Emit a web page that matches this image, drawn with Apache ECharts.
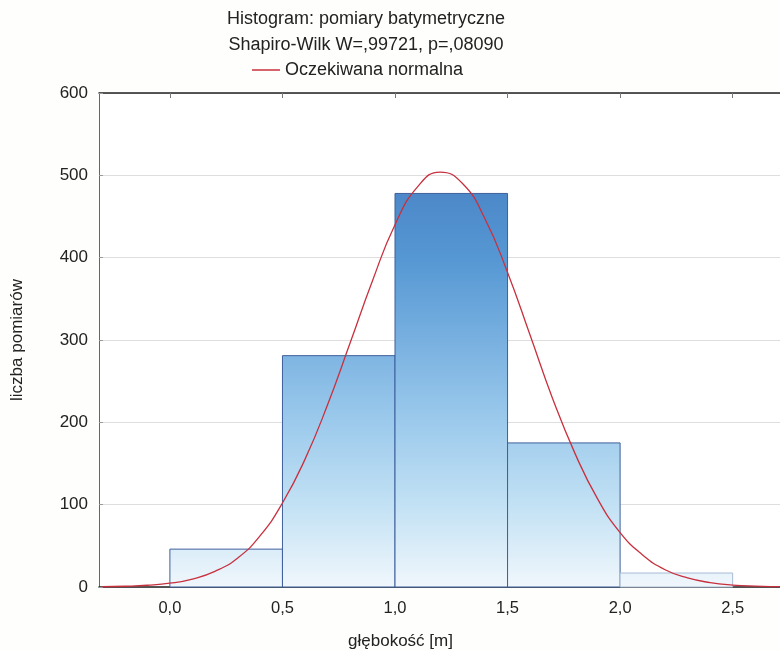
<!DOCTYPE html>
<html>
<head>
<meta charset="utf-8">
<script src="https://cdn.jsdelivr.net/npm/echarts@6/dist/echarts.min.js"></script>
<style>
  html, body { margin: 0; padding: 0; background: #fefefc; }
  #chart { width: 780px; height: 650px; }
</style>
</head>
<body>
<div id="chart"></div>
<script>
// przedziały histogramu [od, do] i liczebności
var binStart = [0.0, 0.5, 1.0, 1.5, 2.0];
var binEnd = [0.5, 1.0, 1.5, 2.0, 2.5];
var counts = [46, 281, 478, 175, 17];

// krzywa oczekiwana normalna
var curveX = [-0.3, -0.2, -0.1, 0.0, 0.1, 0.2, 0.3, 0.4, 0.5, 0.6, 0.7, 0.8, 0.9, 1.0, 1.1, 1.2,
  1.3, 1.4, 1.5, 1.6, 1.7, 1.8, 1.9, 2.0, 2.1, 2.2, 2.3, 2.4, 2.5, 2.6, 2.7, 2.8];
var curveY = [0.3, 0.9, 2.1, 4.6, 9.7, 19, 35, 62, 102, 155, 221, 296, 372, 440, 486, 504,
  490, 447, 382, 306, 229, 162, 107, 66, 39, 21, 11, 5.4, 2.4, 1.0, 0.4, 0.1];

var xTicks = [0.0, 0.5, 1.0, 1.5, 2.0, 2.5];

var binData = binStart.map(function (s, i) { return [s, binEnd[i], counts[i]]; });
var curveData = curveX.map(function (x, i) { return [x, curveY[i]]; });

var myChart = echarts.init(document.getElementById("chart"));
var font = "Liberation Sans, Arial, sans-serif";

myChart.setOption({
  backgroundColor: "#fefefc",
  animation: false,
  title: {
    text: "Histogram: pomiary batymetryczne\nShapiro-Wilk W=,99721, p=,08090",
    left: 361,
    textAlign: "center",
    top: 1,
    textStyle: { fontFamily: font, fontSize: 18, fontWeight: "normal", color: "#222", lineHeight: 26 }
  },
  legend: {
    data: ["Oczekiwana normalna"],
    left: 252,
    top: 61,
    itemWidth: 28,
    itemHeight: 1.5,
    itemGap: 8,
    icon: "rect",
    padding: [0, 0, 0, 0],
    textStyle: { fontFamily: font, fontSize: 18, color: "#222" }
  },
  grid: {
    left: 99, right: -6, top: 93, bottom: 63,
    outerBoundsMode: "none", containLabel: false,
    backgroundColor: "#ffffff", show: true, borderWidth: 0
  },
  xAxis: [
    {
      type: "value",
      min: -0.315,
      max: 2.737,
      position: "bottom",
      name: "głębokość [m]",
      nameLocation: "middle",
      nameGap: 46,
      nameTextStyle: { fontFamily: font, fontSize: 17, color: "#222", padding: [0, 84, 0, 0] },
      axisLine: { lineStyle: { color: "#222", width: 1.5 } },
      axisTick: { show: false },
      splitLine: { show: false },
      axisLabel: {
        customValues: xTicks,
        margin: 13,
        fontFamily: font, fontSize: 16.5, color: "#222",
        formatter: function (v) { return v.toFixed(1).replace(".", ","); }
      }
    },
    {
      type: "value",
      min: -0.315,
      max: 2.737,
      position: "top",
      axisLine: { lineStyle: { color: "#222", width: 1.5 } },
      axisTick: { customValues: xTicks, inside: true, length: 5, lineStyle: { color: "#777" } },
      axisLabel: { show: false },
      splitLine: { show: false }
    }
  ],
  yAxis: {
    type: "value",
    min: 0,
    max: 600,
    interval: 100,
    name: "liczba pomiarów",
    nameLocation: "middle",
    nameGap: 73,
    nameTextStyle: { fontFamily: font, fontSize: 17, color: "#222" },
    axisLine: { show: true, onZero: false, lineStyle: { color: "#666", width: 1 } },
    axisTick: { show: true, inside: true, length: 4, lineStyle: { color: "#999" } },
    axisLabel: { margin: 11, fontFamily: font, fontSize: 17, color: "#222" },
    splitLine: { lineStyle: { color: "#dedede", width: 1 } }
  },
  series: [
    {
      type: "custom",
      name: "histogram",
      data: binData,
      encode: { x: [0, 1], y: 2 },
      renderItem: function (params, api) {
        var p0 = api.coord([api.value(0), api.value(2)]);
        var p1 = api.coord([api.value(1), 0]);
        var yTop = api.coord([0, 500])[1];
        var yBase = api.coord([0, 0])[1];
        return {
          type: "rect",
          shape: { x: p0[0], y: p0[1], width: p1[0] - p0[0], height: p1[1] - p0[1] },
          style: {
            fill: new echarts.graphic.LinearGradient(0, yTop, 0, yBase, [
              { offset: 0, color: "#4a84c6" },
              { offset: 0.2, color: "#5597d3" },
              { offset: 0.4, color: "#78b0e0" },
              { offset: 0.6, color: "#9ccaec" },
              { offset: 0.8, color: "#c2e1f4" },
              { offset: 1, color: "#f0f7fc" }
            ], true),
            stroke: api.value(2) < 30 ? "#a8bcd4" : "#3d5f9c",
            lineWidth: 1
          }
        };
      },
      z: 2
    },
    {
      type: "line",
      name: "Oczekiwana normalna",
      data: curveData,
      smooth: true,
      symbol: "none",
      clip: true,
      color: "#c8303e",
      lineStyle: { color: "#c8303e", width: 1.3 },
      z: 3
    }
  ]
});
</script>
</body>
</html>
